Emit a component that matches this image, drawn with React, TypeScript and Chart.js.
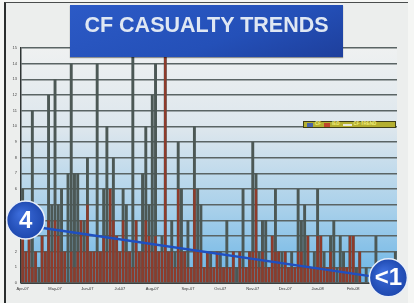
import { useEffect, useRef } from "react";
import { Chart, registerables } from "chart.js";

Chart.register(...registerables);

// ---- data ----
const MONTH_NAMES = ["Jan", "Feb", "Mar", "Apr", "May", "Jun", "Jul", "Aug", "Sep", "Oct", "Nov", "Dec"];
const TICK_MONTHS = ["Apr-07", "May-07", "Jun-07", "Jul-07", "Aug-07", "Sep-07", "Oct-07", "Nov-07", "Dec-07", "Jan-08", "Feb-08"];
const START_DATE = [2007, 3, 1]; // 1 Apr 2007
const BIN_DAYS = 3;

const CF_VALUES = [
  6, 2, 3, 11, 2, 1, 3, 2, 12, 5,
  13, 5, 6, 2, 7, 14, 7, 7, 4, 4,
  8, 2, 2, 14, 2, 6, 10, 6, 8, 3,
  2, 6, 5, 2, 15, 4, 2, 7, 10, 5,
  12, 14, 2, 3, 15, 2, 4, 2, 9, 6,
  2, 4, 1, 10, 6, 5, 1, 2, 2, 1,
  2, 2, 1, 4, 1, 2, 1, 2, 6, 1,
  2, 9, 7, 2, 4, 4, 1, 3, 6, 2,
  2, 2, 1, 2, 1, 6, 4, 5, 3, 1,
  2, 6, 3, 2, 1, 3, 4, 1, 3, 2,
  1, 3, 3, 1, 2, 0, 1, 0, 1, 3,
  0, 1, 0, 1, 0, 2,
];

const IED_VALUES = [
  3, 2, 3, 1, 2, 0, 3, 2, 4, 2,
  4, 3, 2, 2, 0, 2, 1, 2, 4, 2,
  5, 2, 2, 2, 2, 3, 2, 6, 4, 3,
  2, 4, 2, 2, 1, 4, 2, 2, 4, 3,
  2, 3, 2, 2, 15, 2, 2, 1, 6, 2,
  2, 1, 1, 6, 2, 2, 1, 2, 1, 1,
  2, 1, 1, 1, 1, 2, 0, 2, 1, 1,
  2, 2, 6, 1, 2, 1, 1, 3, 2, 2,
  1, 2, 1, 1, 1, 2, 2, 1, 3, 1,
  1, 3, 3, 1, 1, 2, 1, 0, 1, 1,
  1, 3, 3, 0, 2, 0, 0, 0, 0, 0,
  0, 0, 0, 0, 0, 0,
];

const TREND_VALUES = [3.7, 0.2]; // first and last bin
const TREND_BADGES = ["4", "<1"];
const SERIES_NAMES = ["CF", "IED", "CF TREND"];
const TITLE = "CF CASUALTY TRENDS";
const Y_MIN = 0;
const Y_MAX = 15;

// ---- categories (3-day bins starting 1 Apr 2007) ----
const binDate = (i: number, j = 0) => new Date(START_DATE[0], START_DATE[1], START_DATE[2] + BIN_DAYS * i + j);
const CATEGORIES = CF_VALUES.map((_, i) => {
  const d = binDate(i);
  return `${d.getFullYear()}-${d.getMonth() + 1}-${d.getDate()}`;
});
const monthTick = (i: number) => {
  for (let j = 0; j < BIN_DAYS; j++) {
    const d = binDate(i, j);
    if (d.getDate() === 1) {
      const lbl = `${MONTH_NAMES[d.getMonth()]}-${String(d.getFullYear()).slice(2)}`;
      return TICK_MONTHS.includes(lbl) ? lbl : "";
    }
  }
  return "";
};

const COLORS = {
  cf: "#4c5855",
  ied: "#8e3b2b",
  trend: "#1f4fc0",
  grid: "#5a6464",
};

export default function App() {
  const ref = useRef<HTMLCanvasElement | null>(null);

  useEffect(() => {
    document.body.style.margin = "0";
    if (!ref.current) return;

    const bgPlugin = {
      id: "plotBg",
      beforeDraw(chart: any) {
        const { ctx, chartArea: a } = chart;
        const g = ctx.createLinearGradient(0, a.top, 0, a.bottom);
        g.addColorStop(0, "#eff1f1");
        g.addColorStop(0.35, "#dce6ed");
        g.addColorStop(0.7, "#a6cfea");
        g.addColorStop(1, "#6ab4e6");
        ctx.save();
        ctx.fillStyle = g;
        ctx.fillRect(a.left, a.top, a.right - a.left, a.bottom - a.top);
        ctx.restore();
      },
    };

    const badgePlugin = {
      id: "trendBadges",
      afterDatasetsDraw(chart: any) {
        const meta = chart.getDatasetMeta(2);
        const pts = meta.data;
        if (!pts || pts.length < 2) return;
        const ctx = chart.ctx;
        const spots = [
          { x: pts[0].x + 3, y: pts[0].y - 5, t: TREND_BADGES[0] },
          { x: pts[pts.length - 1].x - 7, y: pts[pts.length - 1].y - 2, t: TREND_BADGES[1] },
        ];
        ctx.save();
        for (const s of spots) {
          const g = ctx.createRadialGradient(s.x - 5, s.y - 6, 2, s.x, s.y, 20);
          g.addColorStop(0, "#3a6ad8");
          g.addColorStop(1, "#1d47ad");
          ctx.beginPath();
          ctx.arc(s.x, s.y, 19, 0, Math.PI * 2);
          ctx.fillStyle = g;
          ctx.fill();
          ctx.lineWidth = 1.5;
          ctx.strokeStyle = "#e8eef8";
          ctx.stroke();
          ctx.fillStyle = "#ffffff";
          ctx.font = "bold 24px 'Liberation Sans', Arial, sans-serif";
          ctx.textAlign = "center";
          ctx.textBaseline = "middle";
          ctx.fillText(s.t, s.x, s.y + 1);
        }
        ctx.restore();
      },
    };

    const chart = new Chart(ref.current, {
      type: "bar",
      data: {
        labels: CATEGORIES,
        datasets: [
          {
            type: "bar",
            label: SERIES_NAMES[1],
            data: IED_VALUES,
            backgroundColor: COLORS.ied,
            barPercentage: 0.75,
            categoryPercentage: 1,
            grouped: false,
            order: 1,
          } as any,
          {
            type: "bar",
            label: SERIES_NAMES[0],
            data: CF_VALUES,
            backgroundColor: COLORS.cf,
            barPercentage: 0.9,
            categoryPercentage: 1,
            grouped: false,
            order: 2,
          } as any,
          {
            type: "line",
            label: SERIES_NAMES[2],
            data: [
              { x: CATEGORIES[0], y: TREND_VALUES[0] },
              { x: CATEGORIES[CATEGORIES.length - 1], y: TREND_VALUES[1] },
            ],
            borderColor: COLORS.trend,
            borderWidth: 2.5,
            pointRadius: 0,
            order: 0,
          } as any,
        ],
      },
      options: {
        responsive: false,
        animation: false,
        devicePixelRatio: 1,
        layout: { padding: { left: 5, top: 48, right: 17, bottom: 6 } },
        plugins: { legend: { display: false }, tooltip: { enabled: false }, title: { display: false } },
        scales: {
          x: {
            type: "category",
            grid: { display: false, drawTicks: false },
            border: { display: true, color: "#3a4040", width: 1 },
            ticks: {
              autoSkip: false,
              maxRotation: 0,
              minRotation: 0,
              padding: 3,
              color: "#333",
              font: { size: 4, family: "'Liberation Sans', Arial, sans-serif" },
              callback: (_v: any, i: number) => monthTick(i),
            },
            afterFit: (s: any) => {
              s.height = 14;
            },
          },
          y: {
            min: Y_MIN,
            max: Y_MAX,
            ticks: {
              stepSize: 1,
              padding: 4,
              color: "#444",
              font: { size: 4, family: "'Liberation Sans', Arial, sans-serif" },
            },
            grid: { color: COLORS.grid, lineWidth: 1.5, drawTicks: false },
            border: { display: true, color: "#2f3535", width: 1.5 },
            afterFit: (s: any) => {
              s.width = 16;
            },
          },
        },
      } as any,
      plugins: [bgPlugin, badgePlugin],
    });
    return () => chart.destroy();
  }, []);

  const legendItems = [
    { name: SERIES_NAMES[0], color: "#4a64a8", line: false },
    { name: SERIES_NAMES[1], color: "#c0452c", line: false },
    { name: SERIES_NAMES[2], color: "#e8e8d8", line: true },
  ];

  return (
    <div style={{ position: "relative", width: 414, height: 303, background: "#f5f6f4", overflow: "hidden" }}>
      <div
        style={{
          position: "absolute",
          left: 4,
          top: 2,
          width: 402,
          height: 301,
          borderLeft: "2px solid #2b2e2e",
          borderTop: "1.5px solid #4a4d4d",
          background: "#eceeed",
        }}
      />
      <canvas ref={ref} width={414} height={303} style={{ position: "absolute", left: 0, top: 0, width: 414, height: 303 }} />
      <div
        style={{
          position: "absolute",
          left: 70,
          top: 5,
          width: 273,
          height: 52,
          background: "linear-gradient(160deg, #2c5ac6 0%, #2450b8 60%, #1e3f9c 100%)",
          boxShadow: "0 1px 1px rgba(0,0,0,0.4)",
          color: "#dfe7f3",
          fontFamily: "'Liberation Sans', Arial, sans-serif",
          fontWeight: "bold",
          fontSize: 21.5,
          lineHeight: 1,
          textAlign: "center",
          paddingTop: 10,
          boxSizing: "border-box",
        }}
      >
        {TITLE}
      </div>
      <div
        style={{
          position: "absolute",
          left: 303,
          top: 121,
          width: 93,
          height: 7,
          boxSizing: "border-box",
          background: "#b4af30",
          border: "1px solid #3f3e18",
          display: "flex",
          alignItems: "center",
          gap: 3,
          paddingLeft: 3,
          fontFamily: "'Liberation Sans', Arial, sans-serif",
          fontSize: 4.5,
          fontWeight: "bold",
          color: "#f3f07c",
          lineHeight: 1,
          whiteSpace: "nowrap",
        }}
      >
        {legendItems.map((it) => (
          <span key={it.name} style={{ display: "flex", alignItems: "center", gap: 2 }}>
            <span
              style={{
                display: "inline-block",
                width: it.line ? 9 : 6,
                height: it.line ? 2 : 4,
                background: it.color,
              }}
            />
            {it.name}
          </span>
        ))}
      </div>
    </div>
  );
}
